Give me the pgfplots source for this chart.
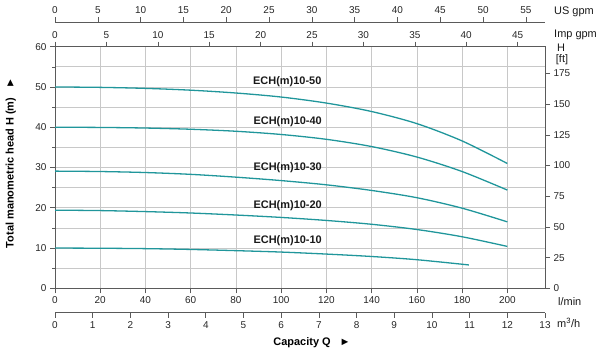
\documentclass[border=0pt]{standalone}
\usepackage{fontspec}
\setmainfont{Liberation Sans}
\usepackage{pgfplots}
\pgfplotsset{compat=1.18}
\definecolor{curve}{RGB}{32,150,155}
\definecolor{framec}{RGB}{90,90,90}
\definecolor{gridc}{RGB}{200,200,200}
\pgfplotsset{
  base/.style={
    scale only axis, width=490bp, height=241.6bp,
    at={(55bp,65.7bp)}, anchor=south west,
    tick align=outside, major tick length=5bp, minor tick length=3bp,
    tick style={color=framec, line width=0.6pt},
    axis line style={color=framec, line width=0.9pt},
    ticklabel style={font=\fontsize{10}{10}\selectfont, color=black!85},
    /pgf/number format/assume math mode=true,
  }
}
\pgfplotstableread{
x y
0 50
20 49.9
40 49.65
60 49.2
80 48.5
100 47.5
120 46.0
140 43.9
160 40.9
180 36.6
200 31.0
}\tfifty
\pgfplotstableread{
x y
0 40
20 39.95
40 39.8
60 39.5
80 39.0
100 38.2
120 37.0
140 35.2
160 32.6
180 29.0
200 24.4
}\tforty
\pgfplotstableread{
x y
0 29.1
20 29.0
40 28.75
60 28.3
80 27.6
100 26.75
120 25.7
140 24.3
160 22.5
180 19.9
200 16.5
}\tthirty
\pgfplotstableread{
x y
0 19.4
20 19.3
40 19.05
60 18.7
80 18.2
100 17.6
120 16.85
140 15.9
160 14.6
180 12.8
200 10.4
}\ttwenty
\pgfplotstableread{
x y
0 10.0
20 9.95
40 9.85
60 9.65
80 9.35
100 9.0
120 8.5
140 7.9
160 7.1
183 5.8
}\tten
\begin{document}
\begin{tikzpicture}
\useasboundingbox (0,0) rectangle (600bp,354bp);
% main axis
\begin{axis}[base,
  xmin=0, xmax=216.667, ymin=0, ymax=60,
  xtick={0,20,...,200}, ytick={0,10,...,60}, minor ytick={5,15,...,55},
  xtick pos=left, ytick pos=left,
  grid=both, major grid style={gridc, line width=0.7pt}, minor grid style={gridc, line width=0.7pt},
]
\addplot[curve, line width=1.3pt, smooth] table[x=x,y=y] {\tfifty};
\addplot[curve, line width=1.3pt, smooth] table[x=x,y=y] {\tforty};
\addplot[curve, line width=1.3pt, smooth] table[x=x,y=y] {\tthirty};
\addplot[curve, line width=1.3pt, smooth] table[x=x,y=y] {\ttwenty};
\addplot[curve, line width=1.3pt, smooth] table[x=x,y=y] {\tten};
\begin{scope}[every node/.style={font=\bfseries\fontsize{11}{11}\selectfont, text=black!90}]
\node at (axis cs:102.7,51.3) {ECH(m)10-50};
\node at (axis cs:102.9,41.4) {ECH(m)10-40};
\node at (axis cs:102.9,30.0) {ECH(m)10-30};
\node at (axis cs:102.9,20.6) {ECH(m)10-20};
\node at (axis cs:102.9,11.9) {ECH(m)10-10};
\end{scope}
\end{axis}
% Imp gpm axis (top of frame)
\begin{axis}[base, xmin=0, xmax=47.661, ymin=0, ymax=1,
  axis y line=none, axis x line*=top, xtick pos=right, xticklabel pos=right,
  xtick={0,5,...,45}, ytick=\empty]
\end{axis}
% US gpm axis
\begin{axis}[base, height=266bp, xmin=0, xmax=57.237, ymin=0, ymax=1,
  axis y line=none, axis x line*=top, xtick pos=right, xticklabel pos=right,
  xtick={0,5,...,55}, ytick=\empty]
\end{axis}
% ft axis
\begin{axis}[base, xmin=0, xmax=1, ymin=0, ymax=196.85,
  axis x line=none, axis y line*=right, ytick pos=right, yticklabel pos=right,
  ytick={0,25,...,175}, xtick=\empty]
\end{axis}
% m3/h axis
\begin{axis}[base, at={(55bp,41.3bp)}, xmin=0, xmax=13, ymin=0, ymax=1,
  axis y line=none, axis x line*=bottom, xtick pos=left, xticklabel pos=left,
  xtick={0,1,...,13}, ytick=\empty]
\end{axis}
% unit labels
\begin{scope}[every node/.style={font=\fontsize{11}{11}\selectfont, text=black!90, inner sep=0pt}]
\node[anchor=west] at (554bp,342bp) {US gpm};
\node[anchor=west] at (554bp,319bp) {Imp gpm};
\node at (561bp,306.5bp) {H};
\node at (562bp,294bp) {[ft]};
\node[anchor=west] at (558bp,52.3bp) {l/min};
\node[anchor=west] at (557bp,30.7bp) {m\textsuperscript{3}/h};
\end{scope}
\node[font=\bfseries\fontsize{11}{11}\selectfont, inner sep=0pt] at (312bp,11bp) {Capacity Q\hspace{9bp}►};
\node[font=\bfseries\fontsize{11}{11}\selectfont, inner sep=0pt, rotate=90] at (10.7bp,191bp) {Total manometric head H (m)\hspace{9bp}►};
\end{tikzpicture}
\end{document}
